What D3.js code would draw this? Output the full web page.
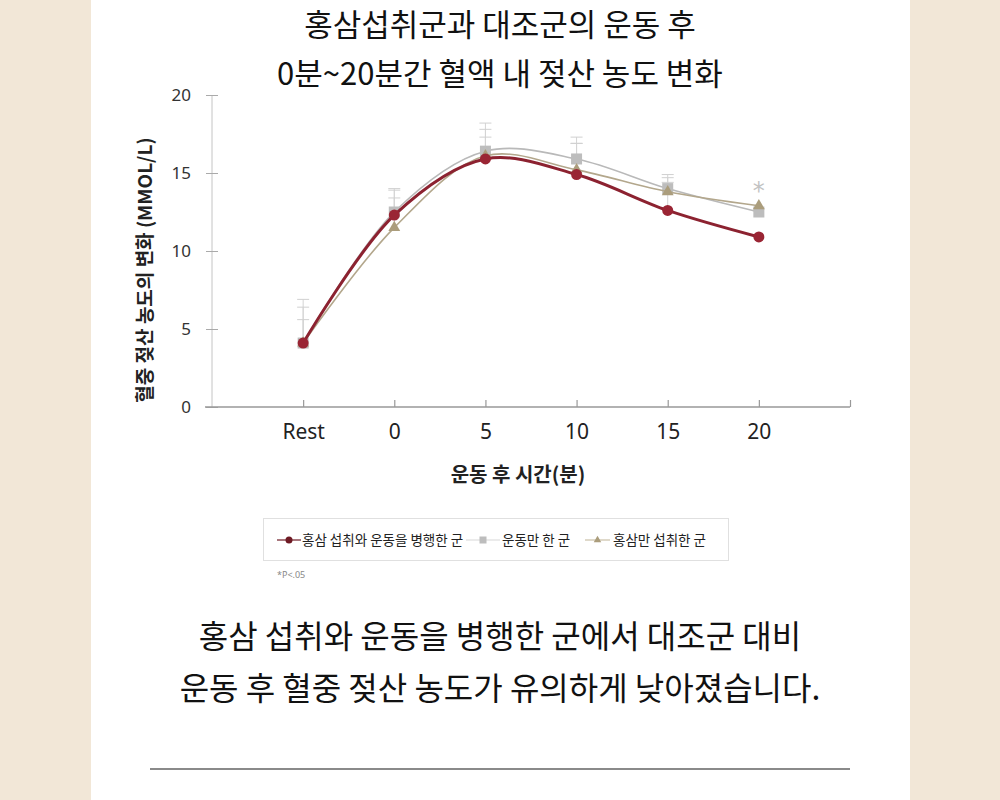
<!DOCTYPE html>
<html>
<head>
<meta charset="utf-8">
<title>홍삼 젖산 농도 변화</title>
<script src="https://d3js.org/d3.v7.min.js"></script>
<style>
  html, body { margin: 0; padding: 0; background: #f2e7d7; }
  svg { display: block; }
  text { font-family: 'Noto Sans CJK KR', 'Noto Sans', sans-serif; }
</style>
</head>
<body>
<div id="chart"></div>
<script>
// categories on the x axis
var times = ["Rest", "0", "5", "10", "15", "20"];
// mean lactate (mmol/L) per group
var bothGroup     = [4.1, 12.3, 15.9, 14.9, 12.6, 10.9]; // 홍삼 섭취와 운동을 병행한 군
var exerciseGroup = [4.1, 12.5, 16.4, 15.9, 14.0, 12.5]; // 운동만 한 군
var ginsengGroup  = [4.1, 11.5, 16.1, 15.2, 13.8, 12.9]; // 홍삼만 섭취한 군
// upper end of the error bars (mean + SD), null = not shown
var bothTop     = [5.6, 13.4, 17.3, 16.9, 14.4, null];
var exerciseTop = [6.9, 14.0, 18.2, 17.3, 14.9, null];
var ginsengTop  = [6.4, 13.9, 17.8, 16.9, 14.7, null];
var yTicks = [0, 5, 10, 15, 20];
var seriesNames = ["홍삼 섭취와 운동을 병행한 군", "운동만 한 군", "홍삼만 섭취한 군"];
var sigIndex = 5; // asterisk above "20"

var W = 1000, H = 800;
var svg = d3.select("#chart").append("svg").attr("width", W).attr("height", H);

// white panel
svg.append("rect").attr("x", 91).attr("y", 0).attr("width", 819).attr("height", H).attr("fill", "#fff");

// title
var title = ["홍삼섭취군과 대조군의 운동 후", "0분~20분간 혈액 내 젖산 농도 변화"];
svg.selectAll(".title").data(title).enter().append("text")
  .attr("class", "title")
  .attr("x", 500).attr("y", function(d, i) { return 36 + i * 49; })
  .attr("text-anchor", "middle")
  .attr("font-size", 31).attr("fill", "#111")
  .text(function(d) { return d; });

// scales
var x = d3.scaleLinear().domain([-1, 6]).range([212, 850]);
var y = d3.scaleLinear().domain([0, 20]).range([407, 95]);

// y axis
var yAxis = svg.append("g").attr("transform", "translate(212,0)")
  .call(d3.axisLeft(y).tickValues(yTicks).tickSize(7).tickPadding(14));
yAxis.select(".domain").attr("stroke", "#c4c4c4").attr("d", "M0," + y(20) + "V" + y(0));
yAxis.selectAll(".tick line").attr("stroke", "#aaa").attr("x1", -6).attr("x2", 6);
yAxis.selectAll(".tick text").attr("font-size", 17).attr("fill", "#333")
  .style("font-family", "'Noto Sans', sans-serif");

// x axis (inside ticks)
var xAxis = svg.append("g").attr("transform", "translate(0," + y(0) + ")")
  .call(d3.axisBottom(x).tickValues([0, 1, 2, 3, 4, 5, 6]).tickSize(-7).tickSizeOuter(0)
    .tickFormat(function(d) { return times[d] || ""; }).tickPadding(17));
xAxis.select(".domain").attr("stroke", "#999").attr("stroke-width", 1.5).attr("d", "M205,0H" + x(6));
xAxis.selectAll(".tick line").attr("stroke", "#999").attr("stroke-width", 1.2);
xAxis.selectAll(".tick text").attr("font-size", 21).attr("fill", "#222")
  .style("font-family", "'Noto Sans', sans-serif");

// axis titles
svg.append("text")
  .attr("transform", "translate(152,270) rotate(-90)")
  .attr("text-anchor", "middle").attr("font-size", 19).attr("font-weight", 700).attr("fill", "#222")
  .text("혈중 젖산 농도의 변화 (MMOL/L)");
svg.append("text")
  .attr("x", 518).attr("y", 482).attr("text-anchor", "middle")
  .attr("font-size", 20).attr("font-weight", 700).attr("fill", "#222")
  .text("운동 후 시간(분)");

var series = [
  { name: seriesNames[1], values: exerciseGroup, top: exerciseTop, color: "#b9b9b9", width: 1.6, shape: "square" },
  { name: seriesNames[2], values: ginsengGroup, top: ginsengTop, color: "#b3a78c", width: 1.6, shape: "triangle" },
  { name: seriesNames[0], values: bothGroup, top: bothTop, color: "#8c2230", width: 3, shape: "circle" }
];

// error bars (upper only)
series.forEach(function(s) {
  var eb = s.values.map(function(v, i) { return { i: i, v: v, t: s.top[i] }; })
    .filter(function(d) { return d.t != null; });
  svg.selectAll(null).data(eb).enter().append("line")
    .attr("x1", function(d) { return x(d.i); }).attr("x2", function(d) { return x(d.i); })
    .attr("y1", function(d) { return y(d.v); }).attr("y2", function(d) { return y(d.t); })
    .attr("stroke", "#d4d4d4").attr("stroke-width", 1);
  svg.selectAll(null).data(eb).enter().append("line")
    .attr("x1", function(d) { return x(d.i) - 6; }).attr("x2", function(d) { return x(d.i) + 6; })
    .attr("y1", function(d) { return y(d.t); }).attr("y2", function(d) { return y(d.t); })
    .attr("stroke", "#d0d0d0").attr("stroke-width", 1);
});

var line = d3.line()
  .x(function(d, i) { return x(i); })
  .y(function(d) { return y(d); })
  .curve(d3.curveCatmullRom.alpha(0.5));

function drawMarker(g, shape, color, size) {
  if (shape === "circle") {
    g.append("circle").attr("r", size / 2).attr("fill", color);
  } else if (shape === "square") {
    g.append("rect").attr("x", -size / 2).attr("y", -size / 2).attr("width", size).attr("height", size).attr("fill", color);
  } else {
    g.append("path").attr("d", d3.symbol().type(d3.symbolTriangle).size(size * size * 0.5)()).attr("fill", color);
  }
}

series.forEach(function(s) {
  svg.append("path").datum(s.values)
    .attr("d", line).attr("fill", "none")
    .attr("stroke", s.color).attr("stroke-width", s.width);
  svg.selectAll(null).data(s.values).enter().append("g")
    .attr("transform", function(d, i) { return "translate(" + x(i) + "," + y(d) + ")"; })
    .each(function() {
      drawMarker(d3.select(this), s.shape, s.shape === "circle" ? "#9a2534" : (s.shape === "square" ? "#bdbdbd" : "#ab9d7c"), 11);
    });
});

// significance mark
svg.append("text")
  .attr("x", x(sigIndex)).attr("y", y(d3.max([exerciseGroup[sigIndex], ginsengGroup[sigIndex]])) - 7)
  .attr("text-anchor", "middle").attr("font-size", 24).attr("fill", "#c2c2c2")
  .style("font-family", "'DejaVu Sans', sans-serif")
  .text("*");

// legend
var legend = svg.append("g");
legend.append("rect").attr("x", 263.5).attr("y", 518.5).attr("width", 465).attr("height", 42)
  .attr("fill", "#fff").attr("stroke", "#e0e0e0");
var legendItems = [
  { s: series[2], x0: 277, x1: 301, tx: 302, color: "#6e1a24", mcolor: "#6e1a24" },
  { s: series[0], x0: 466, x1: 500, tx: 502, color: "#d8d8d8", mcolor: "#bdbdbd" },
  { s: series[1], x0: 585, x1: 610, tx: 613, color: "#c9bfa6", mcolor: "#ab9d7c" }
];
legendItems.forEach(function(l) {
  legend.append("line").attr("x1", l.x0).attr("x2", l.x1).attr("y1", 540).attr("y2", 540)
    .attr("stroke", l.color).attr("stroke-width", 1.2);
  var m = legend.append("g").attr("transform", "translate(" + ((l.x0 + l.x1) / 2) + ",540)");
  drawMarker(m, l.s.shape, l.mcolor, 7);
  legend.append("text").attr("x", l.tx).attr("y", 545).attr("font-size", 13.5).attr("fill", "#222")
    .text(l.s.name);
});
svg.append("text").attr("x", 277).attr("y", 578).attr("font-size", 9).attr("fill", "#888")
  .style("font-family", "'Noto Sans', sans-serif").text("*P<.05");

// bottom note
var note = ["홍삼 섭취와 운동을 병행한 군에서 대조군 대비", "운동 후 혈중 젖산 농도가 유의하게 낮아졌습니다."];
svg.selectAll(".note").data(note).enter().append("text")
  .attr("class", "note")
  .attr("x", 500).attr("y", function(d, i) { return 648 + i * 52; })
  .attr("text-anchor", "middle").attr("font-size", 32).attr("fill", "#111")
  .text(function(d) { return d; });

svg.append("line").attr("x1", 150).attr("x2", 850).attr("y1", 769).attr("y2", 769)
  .attr("stroke", "#8a8a8a").attr("stroke-width", 2);
</script>
</body>
</html>
